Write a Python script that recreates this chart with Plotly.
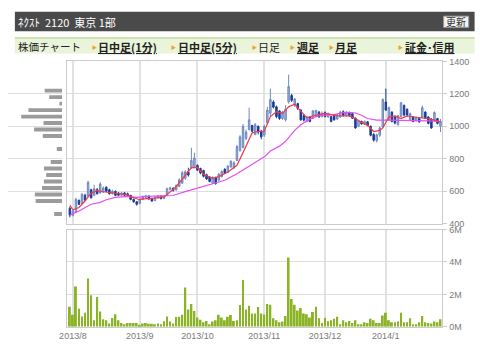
import plotly.graph_objects as go
import pandas as pd

# ---------------- data ----------------
holidays = ["2013-09-16", "2013-09-23", "2013-10-14", "2013-11-04", "2013-12-23",
            "2013-12-31", "2014-01-01", "2014-01-02", "2014-01-03", "2014-01-13"]
dates = [d.strftime("%Y-%m-%d") for d in pd.bdate_range("2013-07-31", "2014-01-31")
         if d.strftime("%Y-%m-%d") not in holidays]

opens = [495, 452, 470, 545, 525, 575, 570, 610, 575, 610, 590, 595, 625, 610, 585, 600, 590, 575, 590, 585,
         575, 550, 535, 525, 550, 562, 570, 555, 542, 560, 570, 555, 575, 612, 618, 608, 630, 650, 680, 720,
         745, 750, 760, 740, 728, 702, 688, 650, 684, 668, 690, 735, 715, 750, 745, 790, 850, 870, 925, 980,
         1005, 950, 1000, 970, 945, 1020, 1080, 1150, 1120, 1095, 1048, 1040, 1150, 1190, 1130, 1140, 1100, 1068, 1030, 1058,
         1048, 1060, 1088, 1060, 1085, 1058, 1060, 1068, 1045, 1058, 1090, 1065, 1082, 1078, 1050, 1000, 1030, 1012, 1028, 1000,
         950, 912, 945, 995, 1150, 1040, 1088, 1058, 1010, 1060, 1128, 1105, 1040, 1058, 1035, 1048, 1055, 1088, 1058, 1045,
         1038, 1048, 1000]
highs = [505, 485, 560, 548, 590, 585, 665, 615, 640, 620, 655, 630, 630, 615, 610, 605, 595, 595, 595, 592,
         578, 555, 540, 556, 575, 578, 575, 560, 570, 576, 574, 575, 622, 628, 625, 642, 680, 725, 730, 745,
         868, 838, 765, 745, 732, 708, 692, 692, 690, 712, 730, 742, 762, 790, 785, 885, 945, 1015, 980, 1115,
         1010, 1020, 1005, 978, 1010, 1120, 1232, 1160, 1128, 1100, 1095, 1130, 1318, 1200, 1175, 1145, 1105, 1075, 1065, 1062,
         1100, 1102, 1095, 1092, 1092, 1085, 1065, 1072, 1078, 1095, 1098, 1095, 1090, 1085, 1055, 1040, 1035, 1036, 1032, 1005,
         958, 955, 998, 1172, 1232, 1122, 1092, 1062, 1070, 1150, 1135, 1110, 1085, 1062, 1060, 1052, 1128, 1092, 1062, 1050,
         1092, 1052, 1045]
lows = [439, 445, 465, 515, 520, 540, 565, 555, 570, 580, 585, 590, 595, 580, 580, 570, 570, 572, 570, 570,
        545, 530, 512, 520, 545, 558, 548, 535, 540, 556, 550, 552, 572, 605, 598, 605, 625, 645, 670, 690,
        740, 745, 725, 705, 685, 670, 655, 645, 640, 662, 685, 705, 712, 745, 738, 785, 845, 865, 915, 975,
        965, 945, 950, 920, 935, 1010, 1060, 1110, 1050, 1040, 1040, 1030, 1140, 1150, 1120, 1100, 1035, 1030, 1025, 1025,
        1045, 1055, 1052, 1055, 1055, 1052, 1025, 1035, 1040, 1052, 1060, 1060, 1060, 1045, 985, 995, 1010, 1008, 1000, 938,
        905, 900, 935, 990, 1095, 1035, 1025, 1012, 1005, 1055, 1062, 1062, 1035, 1025, 1030, 1022, 1050, 1045, 1012, 985,
        1032, 1012, 965]
closes = [453, 478, 550, 520, 580, 545, 655, 560, 615, 585, 645, 620, 600, 585, 600, 575, 575, 590, 575, 575,
          550, 535, 520, 552, 568, 572, 552, 540, 565, 572, 555, 570, 615, 620, 605, 636, 670, 715, 720, 700,
          790, 805, 730, 712, 692, 676, 660, 685, 648, 705, 722, 710, 755, 785, 775, 875, 935, 1000, 965, 1040,
          970, 1010, 965, 935, 1000, 1100, 1165, 1118, 1060, 1048, 1088, 1105, 1245, 1160, 1168, 1110, 1040, 1038, 1058, 1030,
          1095, 1098, 1058, 1080, 1060, 1078, 1030, 1040, 1070, 1088, 1065, 1085, 1066, 1050, 990, 1035, 1015, 1030, 1005, 945,
          915, 948, 990, 1165, 1100, 1115, 1030, 1020, 1065, 1145, 1070, 1070, 1078, 1030, 1055, 1028, 1115, 1050, 1018, 990,
          1085, 1018, 1030]

# volume, millions of shares
volume = [1.24, 0.74, 2.48, 1.12, 0.64, 0.86, 2.98, 1.94, 0.40, 1.84, 0.94, 0.46, 0.40, 0.20, 0.54, 0.78, 0.40, 0.24, 0.16, 0.24,
          0.24, 0.24, 0.24, 0.12, 0.20, 0.24, 0.18, 0.18, 0.16, 0.20, 0.16, 0.34, 0.64, 0.32, 0.20, 0.60, 0.62, 0.74, 2.42, 1.06,
          1.40, 0.98, 0.58, 0.44, 0.28, 0.36, 0.16, 0.32, 0.40, 0.74, 0.58, 0.40, 0.62, 0.72, 0.36, 0.40, 1.34, 2.88, 1.06, 1.30,
          0.82, 0.82, 1.22, 0.82, 0.76, 1.40, 1.36, 0.52, 0.40, 0.28, 0.32, 0.66, 4.28, 1.72, 1.36, 1.00, 1.16, 0.82, 0.78, 0.58,
          0.92, 1.24, 0.52, 0.24, 0.54, 0.34, 0.40, 0.50, 0.62, 0.16, 0.40, 0.28, 0.36, 0.24, 0.40, 0.16, 0.16, 0.28, 0.24, 0.50,
          0.40, 0.24, 0.24, 0.70, 0.86, 0.40, 0.28, 0.28, 0.32, 0.86, 0.28, 0.28, 0.52, 0.16, 0.16, 0.28, 0.66, 0.28, 0.24, 0.20,
          0.32, 0.28, 0.46]

# short moving average (red), read at trading-day numbers
ma_short_day = [0, 1, 3, 5, 7, 9, 11, 14, 17, 19, 21, 23, 24, 28, 31, 35, 38, 40, 42, 44, 47, 49, 52, 55, 57, 60,
                62, 64, 66, 68, 70, 72, 74, 76, 78, 80, 84, 88, 92, 94, 96, 98, 100, 102, 103, 105, 107, 109, 111,
                114, 116, 118, 120, 122]
ma_short = [513, 486, 500, 540, 588, 605, 597, 588, 583, 578, 560, 548, 553, 558, 565, 628, 698, 745, 745, 705, 680,
            690, 718, 760, 838, 960, 968, 970, 1060, 1090, 1080, 1120, 1136, 1095, 1052, 1065, 1080, 1066, 1064, 1048,
            1024, 1008, 968, 975, 990, 1058, 1064, 1048, 1064, 1056, 1052, 1048, 1038, 1028]
# long moving average (magenta)
ma_long_day = [0, 3, 7, 10, 12, 15, 19, 22, 25, 30, 34, 38, 42, 47, 51, 55, 57, 61, 64, 66, 69, 71, 74, 76, 78, 80,
               83, 87, 90, 92, 94, 96, 98, 101, 104, 109, 114, 118, 122]
ma_long = [453, 478, 520, 532, 548, 562, 569, 563, 568, 570, 574, 598, 620, 648, 668, 708, 730, 778, 812, 848, 878,
           908, 975, 1010, 1035, 1055, 1068, 1072, 1084, 1086, 1082, 1068, 1048, 1038, 1038, 1038, 1038, 1034, 1028]

# price-by-volume profile (millions of shares per 40-yen band)
profile_price = [1220, 1180, 1140, 1100, 1060, 1020, 980, 940, 900, 860, 820, 780, 740, 700, 660, 620, 580, 540, 500, 460]
profile_vol = [4.6, 3.4, 0.7, 8.9, 10.8, 4.9, 7.4, 5.1, 0.0, 1.4, 0.0, 3.0, 4.8, 4.2, 4.8, 5.3, 7.2, 7.0, 0.0, 2.1]

price_ticks = [400, 600, 800, 1000, 1200, 1400]
vol_ticks = [0, 2, 4, 6]
vol_tick_text = ["0M", "2M", "4M", "6M"]
month_labels = ["2013/8", "2013/9", "2013/10", "2013/11", "2013/12", "2014/1"]
month_keys = ["2013-08", "2013-09", "2013-10", "2013-11", "2013-12", "2014-01"]
month_starts = [next(d for d in dates if d.startswith(k)) for k in month_keys]

# ---------------- figure ----------------
W, H = 480, 359
def px(x): return x / W
def py(y): return 1 - y / H

fig = go.Figure()
fig.add_trace(go.Bar(y=profile_price, x=profile_vol, orientation="h", xaxis="x3", yaxis="y",
                     width=24, marker=dict(color="#9b9b9b", line=dict(width=0)), hoverinfo="skip"))
fig.add_trace(go.Candlestick(x=dates, open=opens, high=highs, low=lows, close=closes,
                             xaxis="x", yaxis="y", whiskerwidth=0,
                             increasing=dict(line=dict(color="#6f8ac0", width=1), fillcolor="#9db2d9"),
                             decreasing=dict(line=dict(color="#1c3c96", width=1), fillcolor="#1c3c96")))
fig.add_trace(go.Scatter(x=[dates[i] for i in ma_long_day], y=ma_long, mode="lines",
                         xaxis="x", yaxis="y", line=dict(color="#e44ff2", width=1.2)))
fig.add_trace(go.Scatter(x=[dates[i] for i in ma_short_day], y=ma_short, mode="lines",
                         xaxis="x", yaxis="y", line=dict(color="#ef3b4e", width=1.2)))
fig.add_trace(go.Bar(x=dates, y=volume, xaxis="x2", yaxis="y2", width=0.62,
                     marker=dict(color="#8ab326", line=dict(width=0))))

grid = "#dedede"
border = "#cccccc"
tickfont = dict(family="Liberation Sans, Arial, sans-serif", size=9, color="#7a7a7a")
xrange = [-0.94, 122.6]

fig.update_layout(
    width=W, height=H, margin=dict(l=0, r=0, t=0, b=0, pad=0), autosize=False,
    paper_bgcolor="white", plot_bgcolor="white", showlegend=False, boxgap=0.3,
    xaxis=dict(domain=[px(60), px(441.7)], anchor="y", type="category", categoryorder="array",
               categoryarray=dates, range=xrange, tickmode="array", tickvals=month_starts,
               showticklabels=False, showgrid=True, gridcolor="#e2e2e2", gridwidth=2,
               showline=True, linecolor=border, mirror=True, zeroline=False,
               rangeslider=dict(visible=False)),
    yaxis=dict(domain=[py(225), py(58)], anchor="x", range=[400, 1400], side="right",
               tickmode="array", tickvals=price_ticks, tickfont=tickfont, gridcolor=grid,
               showline=True, linecolor=border, mirror=True, zeroline=False,
               ticks="outside", ticklen=4, tickcolor=border),
    xaxis2=dict(domain=[px(60), px(441.7)], anchor="y2", type="category", categoryorder="array",
                categoryarray=dates, range=xrange, tickmode="array", tickvals=month_starts,
                ticktext=month_labels, tickfont=tickfont, showgrid=True, gridcolor="#e2e2e2",
                gridwidth=2, showline=True, linecolor=border, mirror=True, zeroline=False, ticks=""),
    yaxis2=dict(domain=[py(331), py(231)], anchor="x2", range=[0, 6], side="right",
                tickmode="array", tickvals=vol_ticks, ticktext=vol_tick_text, tickfont=tickfont,
                gridcolor=grid, showline=True, linecolor=border, mirror=True, zeroline=False,
                ticks="outside", ticklen=4, tickcolor=border),
    xaxis3=dict(domain=[0, px(55)], anchor="y", range=[55 * 0.26, 0], visible=False),
)

shapes = [
    dict(type="rect", xref="paper", yref="paper", x0=px(7), x1=px(474.5), y0=py(27), y1=py(7),
         fillcolor="#4a4a4a", line=dict(width=0), layer="below"),
    dict(type="rect", xref="paper", yref="paper", x0=px(443), x1=px(468.5), y0=py(23), y1=py(11.5),
         fillcolor="#f2f2f2", line=dict(color="#9a9a9a", width=1)),
    dict(type="rect", xref="paper", yref="paper", x0=px(7), x1=px(474.5), y0=py(50), y1=py(33.5),
         fillcolor="#eaf4da", line=dict(width=0), layer="below"),
    dict(type="line", xref="paper", yref="paper", x0=px(7), x1=px(474.5), y0=py(34), y1=py(34),
         line=dict(color="#cfe2b4", width=2)),
]
fig.update_layout(shapes=shapes)

jp = "Noto Sans CJK JP"
ann = []
def text(x, y, s, size=11, color="#222", anchor="left"):
    ann.append(dict(xref="paper", yref="paper", x=px(x), y=py(y), text=s, showarrow=False,
                    xanchor=anchor, yanchor="middle", font=dict(family=jp, size=size, color=color)))

text(8, 17, "ﾈｸｽﾄ  2120  東京 1部", size=11, color="#ffffff")
text(455.7, 17.3, "更新", size=10, color="#333", anchor="center")
text(8, 43, "株価チャート", size=10.5, color="#222")
for tx, label, link in [(84.5, "日中足(1分)", True), (165.5, "日中足(5分)", True), (247.5, "日足", False),
                        (286.5, "週足", True), (325.5, "月足", True), (396.5, "証金･信用", True)]:
    text(tx - 1.5, 42.5, "▶", size=5, color="#f0a02a")
    s = f"<b><u>{label}</u></b>" if link else label
    text(tx + 5, 43, s, size=11, color="#222")
fig.update_layout(annotations=ann)

fig.write_html("out.html", config={"displayModeBar": False},
               post_script="document.body.style.margin='0';document.body.style.overflow='hidden';")
